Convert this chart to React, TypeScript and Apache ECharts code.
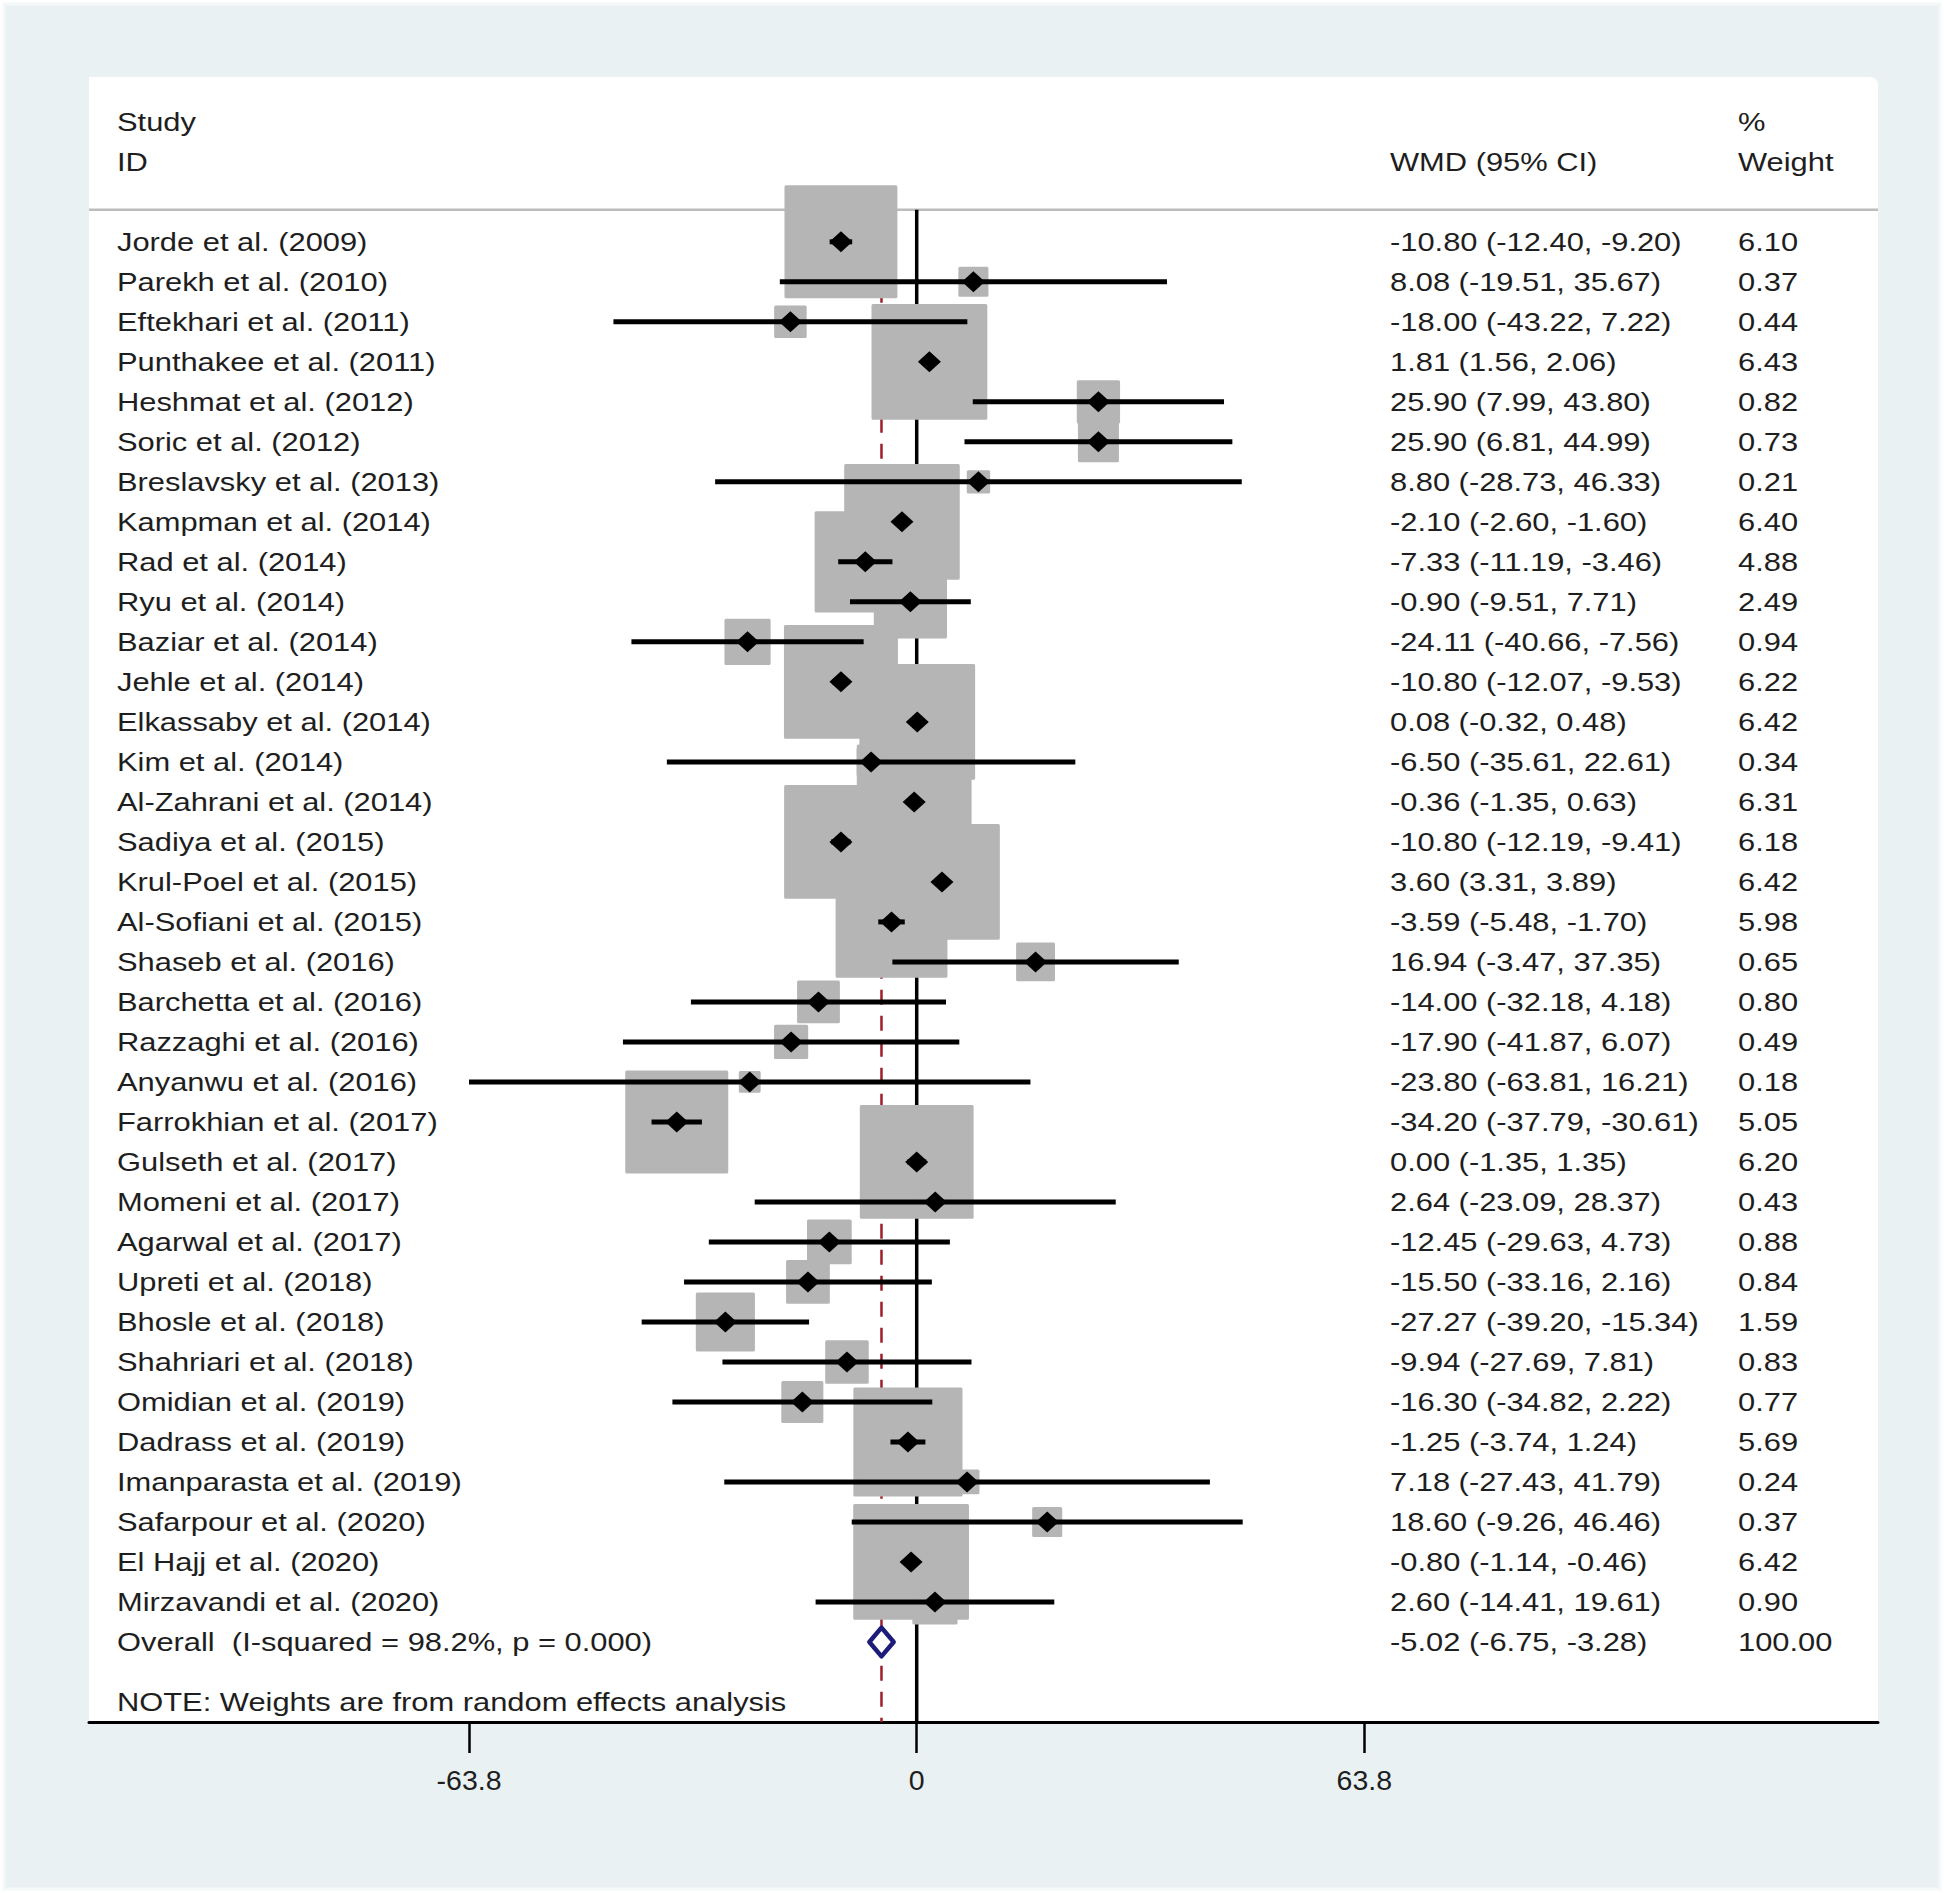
import React, { useEffect, useRef } from "react";
import * as echarts from "echarts";

const studies = [
  "Jorde et al. (2009)",
  "Parekh et al. (2010)",
  "Eftekhari et al. (2011)",
  "Punthakee et al. (2011)",
  "Heshmat et al. (2012)",
  "Soric et al. (2012)",
  "Breslavsky et al. (2013)",
  "Kampman et al. (2014)",
  "Rad et al. (2014)",
  "Ryu et al. (2014)",
  "Baziar et al. (2014)",
  "Jehle et al. (2014)",
  "Elkassaby et al. (2014)",
  "Kim et al. (2014)",
  "Al-Zahrani et al. (2014)",
  "Sadiya et al. (2015)",
  "Krul-Poel et al. (2015)",
  "Al-Sofiani et al. (2015)",
  "Shaseb et al. (2016)",
  "Barchetta et al. (2016)",
  "Razzaghi et al. (2016)",
  "Anyanwu et al. (2016)",
  "Farrokhian et al. (2017)",
  "Gulseth et al. (2017)",
  "Momeni et al. (2017)",
  "Agarwal et al. (2017)",
  "Upreti et al. (2018)",
  "Bhosle et al. (2018)",
  "Shahriari et al. (2018)",
  "Omidian et al. (2019)",
  "Dadrass et al. (2019)",
  "Imanparasta et al. (2019)",
  "Safarpour et al. (2020)",
  "El Hajj et al. (2020)",
  "Mirzavandi et al. (2020)",
];

const estimates = [
  -10.8, 8.08, -18.0, 1.81, 25.9, 25.9, 8.8, -2.1, -7.33, -0.9, -24.11, -10.8,
  0.08, -6.5, -0.36, -10.8, 3.6, -3.59, 16.94, -14.0, -17.9, -23.8, -34.2, 0.0,
  2.64, -12.45, -15.5, -27.27, -9.94, -16.3, -1.25, 7.18, 18.6, -0.8, 2.6,
];

const lowers = [
  -12.4, -19.51, -43.22, 1.56, 7.99, 6.81, -28.73, -2.6, -11.19, -9.51, -40.66,
  -12.07, -0.32, -35.61, -1.35, -12.19, 3.31, -5.48, -3.47, -32.18, -41.87,
  -63.81, -37.79, -1.35, -23.09, -29.63, -33.16, -39.2, -27.69, -34.82, -3.74,
  -27.43, -9.26, -1.14, -14.41,
];

const uppers = [
  -9.2, 35.67, 7.22, 2.06, 43.8, 44.99, 46.33, -1.6, -3.46, 7.71, -7.56, -9.53,
  0.48, 22.61, 0.63, -9.41, 3.89, -1.7, 37.35, 4.18, 6.07, 16.21, -30.61, 1.35,
  28.37, 4.73, 2.16, -15.34, 7.81, 2.22, 1.24, 41.79, 46.46, -0.46, 19.61,
];

const weights = [
  6.1, 0.37, 0.44, 6.43, 0.82, 0.73, 0.21, 6.4, 4.88, 2.49, 0.94, 6.22, 6.42,
  0.34, 6.31, 6.18, 6.42, 5.98, 0.65, 0.8, 0.49, 0.18, 5.05, 6.2, 0.43, 0.88,
  0.84, 1.59, 0.83, 0.77, 5.69, 0.24, 0.37, 6.42, 0.9,
];

const overallLabel = "Overall  (I-squared = 98.2%, p = 0.000)";
const overallEstimate = -5.02;
const overallLower = -6.75;
const overallUpper = -3.28;
const overallWeight = "100.00";

const xTicks = [-63.8, 0, 63.8];
const noteText = "NOTE: Weights are from random effects analysis";
const headerStudy = ["Study", "ID"];
const headerEffect = "WMD (95% CI)";
const headerWeight = ["%", "Weight"];

// layout constants
const W = 1944;
const H = 1893;
const GRID_L = 89;
const GRID_R = 1878;
const GRID_T = 77;
const GRID_B = 1722;
const XMIN = -117.97;
const XMAX = 137.01;
const YMIN = -4.12;
const YMAX = 37;
const SEP = -0.8;
const FONT = "'Liberation Sans', Arial, sans-serif";
const FS = 26.5;
const SX = 1.165;
const TEXT_COLOR = "#1e1e1e";

const rowY = (i: number) =>
  GRID_T + ((i - YMIN) / (YMAX - YMIN)) * (GRID_B - GRID_T);

const fmt = (v: number) => v.toFixed(2);

function txt(text: string, x: number, y: number) {
  return {
    type: "text",
    x,
    y,
    scaleX: SX,
    z: 100,
    silent: true,
    style: {
      text,
      fill: TEXT_COLOR,
      fontSize: FS,
      fontFamily: FONT,
      align: "left",
      verticalAlign: "middle",
      textAlign: "left",
      textVerticalAlign: "middle",
    },
  };
}

export default function App() {
  const ref = useRef<HTMLDivElement>(null);

  useEffect(() => {
    if (!ref.current) return;
    const chart = echarts.init(ref.current, undefined, { renderer: "svg" });

    const COL_STUDY = 117;
    const COL_EFFECT = 1390;
    const COL_WEIGHT = 1738;

    const graphics: any[] = [
      {
        type: "rect",
        z: -10,
        silent: true,
        shape: { x: 4, y: 4, width: W - 8, height: H - 8 },
        style: { fill: "#e9f1f3", stroke: "#f6f9fa", lineWidth: 3 },
      },
      {
        type: "rect",
        z: -9,
        silent: true,
        shape: {
          x: GRID_L,
          y: GRID_T,
          width: GRID_R - GRID_L,
          height: GRID_B - GRID_T,
          r: [0, 8, 0, 0],
        },
        style: { fill: "#ffffff" },
      },
      txt(headerStudy[0], COL_STUDY, rowY(-3)),
      txt(headerStudy[1], COL_STUDY, rowY(-2)),
      txt(headerEffect, COL_EFFECT, rowY(-2)),
      txt(headerWeight[0], COL_WEIGHT, rowY(-3)),
      txt(headerWeight[1], COL_WEIGHT, rowY(-2)),
    ];

    studies.forEach((s, i) => {
      graphics.push(txt(s, COL_STUDY, rowY(i)));
      graphics.push(
        txt(
          `${fmt(estimates[i])} (${fmt(lowers[i])}, ${fmt(uppers[i])})`,
          COL_EFFECT,
          rowY(i)
        )
      );
      graphics.push(txt(fmt(weights[i]), COL_WEIGHT, rowY(i)));
    });
    const ov = studies.length;
    graphics.push(txt(overallLabel, COL_STUDY, rowY(ov)));
    graphics.push(
      txt(
        `${fmt(overallEstimate)} (${fmt(overallLower)}, ${fmt(overallUpper)})`,
        COL_EFFECT,
        rowY(ov)
      )
    );
    graphics.push(txt(overallWeight, COL_WEIGHT, rowY(ov)));
    graphics.push(txt(noteText, COL_STUDY, rowY(ov + 1.5)));

    const option: any = {
      animation: false,
      backgroundColor: "#ffffff",
      grid: {
        left: GRID_L,
        right: W - GRID_R,
        top: GRID_T,
        bottom: H - GRID_B,
        containLabel: false,
        outerBoundsMode: "none",
        show: false,
      },
      xAxis: {
        type: "value",
        min: XMIN,
        max: XMAX,
        position: "bottom",
        splitLine: { show: false },
        axisLine: { show: true, onZero: false, lineStyle: { color: "#000", width: 3 } },
        axisTick: {
          show: true,
          customValues: xTicks,
          length: 31,
          lineStyle: { color: "#000", width: 2.5 },
        },
        axisLabel: {
          show: true,
          customValues: xTicks,
          formatter: (v: number) => String(v),
          fontSize: 28.5,
          fontFamily: FONT,
          color: TEXT_COLOR,
          margin: 43,
        },
      },
      yAxis: {
        type: "value",
        inverse: true,
        min: YMIN,
        max: YMAX,
        show: false,
        splitLine: { show: false },
      },
      graphic: graphics,
      series: [
        {
          type: "line",
          z: 1,
          symbol: "none",
          silent: true,
          data: [
            [XMIN, SEP],
            [XMAX, SEP],
          ],
          lineStyle: { color: "#bcbcbc", width: 2.5 },
        },
        {
          type: "line",
          z: 1,
          symbol: "none",
          silent: true,
          data: [
            [0, SEP],
            [0, YMAX],
          ],
          lineStyle: { color: "#000", width: 3.5 },
        },
        {
          type: "line",
          z: 1,
          symbol: "none",
          silent: true,
          data: [
            [overallEstimate, SEP],
            [overallEstimate, YMAX],
          ],
          lineStyle: { color: "#9e1f2b", width: 2.5, type: [15, 11] },
        },
        {
          type: "scatter",
          z: 2,
          silent: true,
          symbol: "rect",
          data: estimates.map((e, i) => [e, i, weights[i]]),
          symbolSize: (v: number[]) => 44.5 * Math.sqrt(v[2]),
          itemStyle: {
            color: "#b5b5b5",
            borderColor: "#b5b5b5",
            borderWidth: 3,
            borderJoin: "round",
            opacity: 1,
          },
        },
        {
          type: "custom",
          z: 3,
          silent: true,
          encode: { x: [0, 1], y: 2 },
          data: lowers.map((l, i) => [l, uppers[i], i]),
          renderItem: (_p: any, api: any) => {
            const p1 = api.coord([api.value(0), api.value(2)]);
            const p2 = api.coord([api.value(1), api.value(2)]);
            return {
              type: "line",
              shape: { x1: p1[0], y1: p1[1], x2: p2[0], y2: p2[1] },
              style: { stroke: "#000", lineWidth: 5 },
            };
          },
        },
        {
          type: "scatter",
          z: 4,
          silent: true,
          symbol: "diamond",
          symbolSize: [23, 21],
          data: estimates.map((e, i) => [e, i]),
          itemStyle: { color: "#000", opacity: 1 },
        },
        {
          type: "custom",
          z: 5,
          silent: true,
          encode: { x: [0, 1, 2], y: 3 },
          data: [[overallEstimate, overallLower, overallUpper, ov]],
          renderItem: (_p: any, api: any) => {
            const y = api.value(3);
            const l = api.coord([api.value(1), y]);
            const r = api.coord([api.value(2), y]);
            const t = api.coord([api.value(0), y - 0.36]);
            const b = api.coord([api.value(0), y + 0.36]);
            return {
              type: "polygon",
              shape: { points: [l, t, r, b] },
              style: {
                fill: "#ffffff",
                stroke: "#1c1c7a",
                lineWidth: 4.5,
                lineJoin: "round",
              },
            };
          },
        },
      ],
    };

    chart.setOption(option);
    return () => chart.dispose();
  }, []);

  return (
    <div
      ref={ref}
      style={{ position: "absolute", left: 0, top: 0, width: W, height: H }}
    />
  );
}
